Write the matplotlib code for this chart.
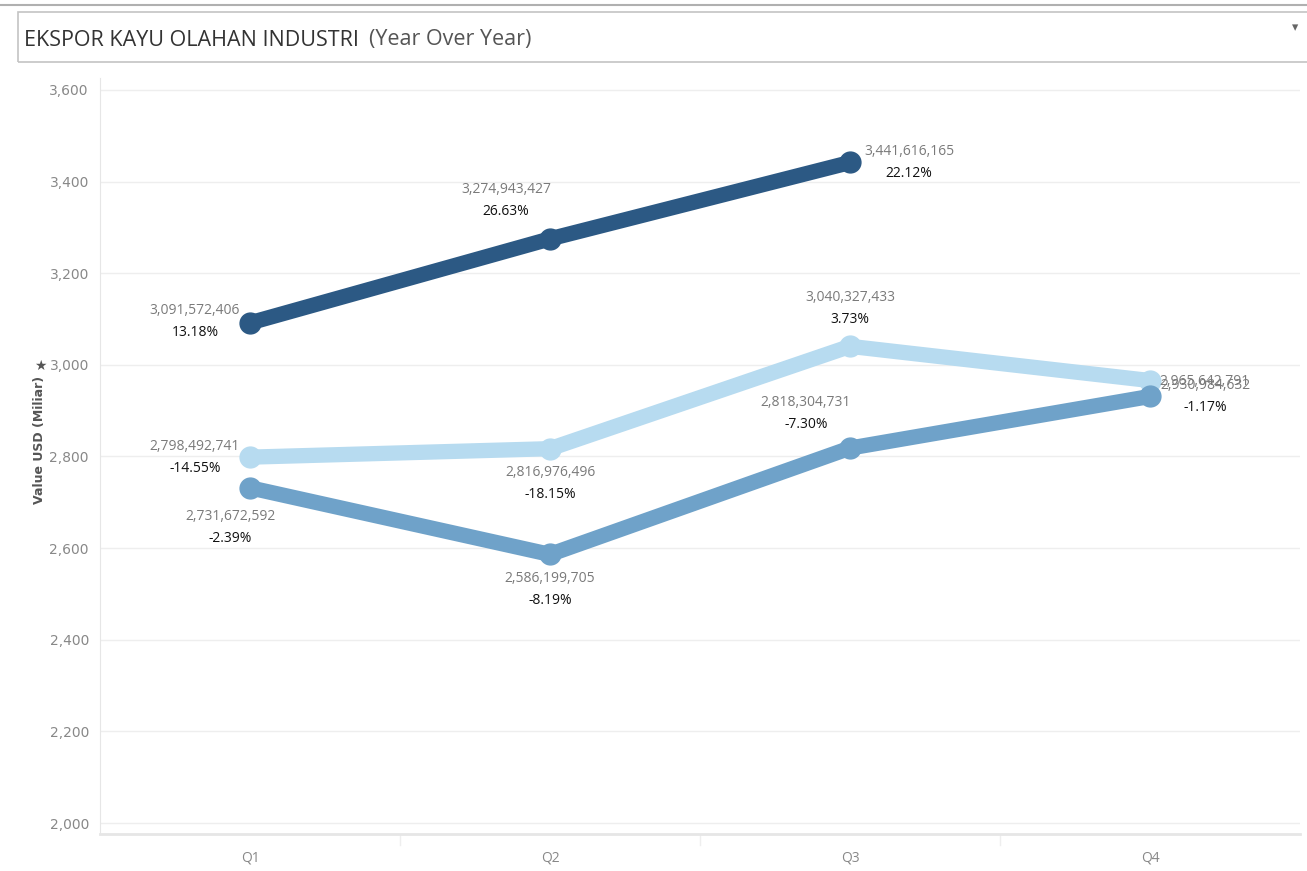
import matplotlib.pyplot as plt
from matplotlib.patches import Rectangle
from matplotlib.lines import Line2D
import matplotlib.font_manager as fm

names = {f.name for f in fm.fontManager.ttflist}
cond = 'Liberation Sans Narrow' if 'Liberation Sans Narrow' in names else 'Open Sans'

quarters = ['Q1', 'Q2', 'Q3', 'Q4']

# nilai ekspor (USD) per kuartal
val_dark = [3091572406, 3274943427, 3441616165]
pct_dark = ['13.18%', '26.63%', '22.12%']
val_light = [2798492741, 2816976496, 3040327433, 2965642791]
pct_light = ['-14.55%', '-18.15%', '3.73%', '']
val_mid = [2731672592, 2586199705, 2818304731, 2930984632]
pct_mid = ['-2.39%', '-8.19%', '-7.30%', '-1.17%']

c_dark = '#2c5984'
c_mid = '#6fa2c9'
c_light = '#b7dbf0'

W, H = 1307, 871
fig = plt.figure(figsize=(W / 100, H / 100), dpi=100)
ax = fig.add_axes([100 / W, (H - 834) / H, 1200 / W, (834 - 78) / H])

# garis atas & kotak judul
fig.add_artist(Line2D([0, 1], [1 - 5 / H, 1 - 5 / H], color='#b0b0b0', lw=1.5))
fig.add_artist(Rectangle((18 / W, 1 - 62 / H), 1.2, 50 / H, fill=False,
                         edgecolor='#c4c4c4', lw=1.2))
t1 = fig.text(24 / W, 1 - 40 / H, 'EKSPOR KAYU OLAHAN INDUSTRI', fontsize=15.5,
              family=cond, color='#333333', va='center')
fig.canvas.draw()
bb = t1.get_window_extent()
fig.text((bb.x1 + 10) / W, 1 - 40 / H, '(Year Over Year)', fontsize=15.5,
         family=cond, color='#555555', va='center')
fig.text(1295 / W, 1 - 28 / H, '\u25BE', fontsize=9, color='#666666',
         ha='center', va='center')


def draw(vals, color):
    y = [v / 1e6 for v in vals]
    x = list(range(len(y)))
    ax.plot(x, y, color=color, lw=11, solid_capstyle='round', zorder=3)
    ax.plot(x, y, 'o', color=color, ms=15, zorder=4)


draw(val_light, c_light)
draw(val_mid, c_mid)
draw(val_dark, c_dark)

gray = '#7a7a7a'


def label(i, v, pct, dx, dy, ha='center'):
    ax.annotate(f'{v:,}', (i, v / 1e6), xytext=(dx, dy), textcoords='offset pixels',
                ha=ha, va='center', fontsize=10, family=cond, color=gray, zorder=5)
    if pct:
        ax.annotate(pct, (i, v / 1e6), xytext=(dx, dy - 22), textcoords='offset pixels',
                    ha=ha, va='center', fontsize=10, family=cond, color='#111111', zorder=5)


# label seri gelap
label(0, val_dark[0], pct_dark[0], -55, 12)
label(1, val_dark[1], pct_dark[1], -44, 49)
label(2, val_dark[2], pct_dark[2], 59, 11)
# label seri terang
label(0, val_light[0], pct_light[0], -55, 11)
label(1, val_light[1], pct_light[1], 0, -24)
label(2, val_light[2], pct_light[2], 0, 49)
label(3, val_light[3], pct_light[3], 55, -1)
# label seri tengah
label(0, val_mid[0], pct_mid[0], -20, -29)
label(1, val_mid[1], pct_mid[1], 0, -24)
label(2, val_mid[2], pct_mid[2], -44, 46)
label(3, val_mid[3], pct_mid[3], 55, 11)

ax.set_xlim(-0.5, 3.5)
ax.set_ylim(1976, 3626)
ax.set_yticks(range(2000, 3601, 200))
ax.set_yticklabels([f'{t:,}' for t in range(2000, 3601, 200)])
ax.set_xticks(range(4))
ax.set_xticklabels(quarters)
ax.tick_params(axis='both', length=0, labelsize=10, labelcolor='#888888')
ax.tick_params(axis='y', pad=8)
ax.tick_params(axis='x', pad=12)
for lab in ax.get_xticklabels():
    lab.set_family(cond)
ax.grid(axis='y', color='#eeeeee', lw=1)
ax.set_axisbelow(True)
for s in ['top', 'right']:
    ax.spines[s].set_visible(False)
ax.spines['left'].set_color('#e6e6e6')
ax.spines['bottom'].set_color('#e6e6e6')
ax.spines['bottom'].set_linewidth(2)
# pemisah antar kuartal
for xd in [0.5, 1.5, 2.5]:
    ax.plot([xd, xd], [1976, 1976 - 25], color='#eeeeee', lw=1, clip_on=False)

fig.text(40 / W, 1 - 440 / H, 'Value USD (Miliar)', rotation=90, fontsize=9,
         fontweight='bold', color='#555555', ha='center', va='center')
fig.text(40 / W, 1 - 366 / H, '\u2605', fontsize=10, color='#555555',
         ha='center', va='center')

fig.savefig('out.png', dpi=100)
